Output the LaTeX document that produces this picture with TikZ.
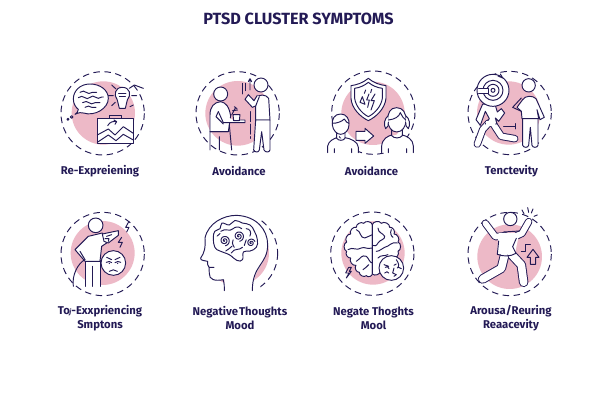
\documentclass[tikz,border=0pt]{standalone}
\usepackage{fontspec}
\setmainfont{Fira Sans}
\usetikzlibrary{decorations.pathmorphing}
\definecolor{ink}{HTML}{231A55}
\definecolor{rose}{HTML}{EDB9C7}
\tikzset{
  z3/.style={x=.3333pt,y=-.3333pt},
  ln/.style={draw=ink,line width=.95pt,line cap=round,line join=round},
  wf/.style={ln,fill=white},
  dashring/.style={draw=ink,line width=.95pt,dash pattern=on 6.5pt off 4.5pt},
  pinkdisc/.style={fill=rose,draw=none},
  lab/.style={text=ink,font=\bfseries\fontsize{11.3}{14}\selectfont,align=center,inner sep=0pt},
  ttl/.style={text=ink,font=\bfseries\fontsize{16.2}{18}\selectfont,inner sep=0pt},
  wav/.style={ln,decorate,decoration={snake,segment length=11pt,amplitude=1.2pt}},
  scl/.style={bend right=70},
  scr/.style={bend left=70}
}
\newcommand\tube[2]{\draw[ink,line width=#1pt,line cap=round,line join=round] #2;
  \draw[white,line width=#1pt-1.9pt,line cap=round,line join=round] #2;}
\newcommand\spir[4]{\draw[ln] plot[domain=0:#4,samples=50,smooth] ({#1+(\x/#4*#3)*cos(\x)},{#2+(\x/#4*#3)*sin(\x)});}
\begin{document}
\begin{tikzpicture}[x=1pt,y=-1pt]
\useasboundingbox (0,0) rectangle (600,420);
\fill[white] (0,0) rectangle (600,420);
\node[ttl] (title) at (298.5,18.5) {PTSD CLUSTER SYMPTOMS};
\node[lab] (l1) at (100,171.5) {Re-Expreiening};
\node[lab] (l2) at (239,171.5) {Avoidance};
\node[lab] (l3) at (371.5,171.5) {Avoidance};
\node[lab] (l4) at (511.5,171.5) {Tenctevity};
\node[lab] (l5) at (100,318.5) {To\kern-.5pt{\itshape\scriptsize j}-Exxpriencing\\Smptons};
\node[lab] (l6) at (240,318.5) {Negative\hspace{1pt}Thoughts\\Mood};
\node[lab] (l7) at (373.5,318.5) {Negate Thoghts\\Mool};
\node[lab] (l8) at (511,318.5) {Arousa/Reuring\\Reaacevity};

% ---- icon 1
\begin{scope}[shift={(40,55)},z3]
\draw[dashring] (188,175) circle[radius=125];
\fill[pinkdisc] (190,174) circle[radius=95];
\draw[wf] (105,178) .. controls (118,172) and (124,172) .. (130,174) .. controls (165,185) and (205,160) .. (205,130) .. controls (205,105) and (180,87) .. (150,87) .. controls (120,87) and (100,108) .. (100,132) .. controls (100,147) and (108,158) .. (115,163) .. controls (115,170) and (110,175) .. (105,178) -- cycle;
\draw[wav] (120,112) -- (170,112);
\draw[wav] (115,128) -- (190,126);
\draw[wav] (128,143) -- (180,143);
\draw[wav] (135,157) -- (168,157);
\draw[ln] (95,186) circle[radius=4];
\draw[ln] (84,193) circle[radius=3];
% bulb
\draw[wf] (238,160) -- (232,135) .. controls (220,120) and (225,97) .. (247,97) .. controls (270,97) and (275,120) .. (262,135) -- (256,160) -- cycle;
\draw[ln] (236,115) -- (258,115) (238,124) -- (256,124);
\draw[ln] (215,90) -- (228,102) (205,122) -- (220,122) (215,152) -- (226,142) (275,122) -- (290,122) (270,155) -- (280,150) (268,100) -- (283,90) -- (310,100);
% briefcase
\draw[wf] (172,190) rectangle (280,265);
\draw[ln] (207,190) -- (207,182) -- (243,182) -- (243,190);
\draw[ln] (172,240) -- (205,222) -- (225,240) -- (250,215) -- (280,235);
\draw[ln] (172,262) -- (205,240) -- (228,257) -- (250,238) -- (280,255);
\draw[ln] (203,212) .. controls (210,200) and (220,198) .. (230,200) (222,195) -- (230,200) -- (225,208);
\end{scope}

% ---- icon 2
\begin{scope}[shift={(190,70)},z3]
\draw[dashring] (143,130) circle[radius=125];
\fill[pinkdisc] (143,130) circle[radius=97];
% left person
\draw[wf] (60,185) -- (60,135) .. controls (60,110) and (72,97) .. (92,95) .. controls (108,97) and (118,112) .. (122,138) -- (115,185) -- cycle;
\draw[ln] (60,185) -- (60,240) (88,200) -- (88,240) (118,165) -- (125,240) (60,185) -- (115,185);
\draw[wf] (92,72) circle[radius=21];
\draw[wf] (85,125) -- (100,158) -- (165,158) -- (165,150) -- (130,150);
\draw[ln] (85,125) -- (78,140) -- (100,162);
\draw[wf] (129,134) -- (150,134) -- (148,152) -- (131,152) -- cycle;
\draw[ln] (125,135) -- (137,112) (128,122) -- (143,120) (133,110) -- (141,116);
% right person
\draw[wf] (197,150) -- (197,85) .. controls (205,72) and (228,72) .. (236,85) -- (240,150) -- cycle;
\draw[wf] (208,80) -- (197,108) -- (187,112) -- (165,88) -- (175,74) -- (192,92) -- (202,76);
\draw[wf] (197,150) -- (191,240) .. controls (195,248) and (206,248) .. (208,240) -- (215,185) -- (222,240) .. controls (226,248) and (238,248) .. (240,240) -- (240,150) -- cycle;
\draw[wf] (213,45) circle[radius=21];
\draw[ln] (158,40) -- (158,72) (166,40) -- (166,62);
\draw[ln] (180,60) -- (180,28) (175,35) -- (180,26) -- (185,35);
\draw[ln,dash pattern=on 10pt off 2.5pt] (181,125) -- (181,205);
\end{scope}

% ---- icon 3
\begin{scope}[shift={(325,70)},z3]
\draw[dashring] (145,128) circle[radius=125];
\fill[pinkdisc] (144,130) circle[radius=95];
\draw[wf] (130,25) .. controls (115,38) and (95,45) .. (78,47) -- (78,85) .. controls (80,115) and (105,140) .. (130,152) .. controls (155,140) and (180,115) .. (183,85) -- (183,47) .. controls (165,45) and (145,38) .. (130,25) -- cycle;
\draw[ln] (130,37) .. controls (118,47) and (104,53) .. (89,55) -- (89,85) .. controls (92,108) and (110,130) .. (130,140) .. controls (150,130) and (169,108) .. (172,85) -- (172,55) .. controls (156,53) and (142,47) .. (130,37) -- cycle;
\draw[ln] (132,72) -- (125,90) -- (133,90) -- (128,112);
\draw[ln] (112,80) -- (105,97) -- (120,103) -- cycle;
\draw[ln] (150,72) -- (138,92) -- (148,92) -- (138,120);
\draw[ln] (122,60) -- (118,70) (140,58) -- (137,68);
% left person
\fill[white] (8,248) -- (8,225) .. controls (10,212) and (30,205) .. (48,205) .. controls (75,205) and (100,215) .. (100,235) -- (100,248) -- cycle;
\draw[ln] (8,248) -- (8,228) .. controls (10,212) and (30,205) .. (35,203) (60,203) .. controls (75,205) and (100,215) .. (100,232) -- (100,248);
\draw[ln] (28,248) -- (28,236) (80,248) -- (80,236) (35,190) -- (35,205) .. controls (42,213) and (54,213) .. (60,205) -- (60,190);
\draw[wf] (47,132) .. controls (28,132) and (20,148) .. (22,165) .. controls (24,182) and (36,193) .. (47,193) .. controls (60,193) and (72,180) .. (72,165) .. controls (74,148) and (65,132) .. (47,132) -- cycle;
\draw[ln] (22,160) .. controls (36,160) and (50,155) .. (58,147) .. controls (62,155) and (68,160) .. (72,160);
% arrow
\draw[wf] (93,184) -- (120,184) -- (120,175) -- (146,198) -- (120,220) -- (120,211) -- (93,211) -- cycle;
% right person
\fill[white] (170,248) -- (170,225) .. controls (172,205) and (195,195) .. (215,195) .. controls (245,195) and (265,208) .. (265,228) -- (265,248) -- cycle;
\draw[ln] (170,248) -- (170,228) .. controls (172,205) and (190,198) .. (200,195) (232,195) .. controls (245,198) and (265,208) .. (265,228) -- (265,248);
\draw[ln] (190,248) -- (190,236) (245,248) -- (245,236) (200,180) -- (200,197) .. controls (207,206) and (225,206) .. (232,197) -- (232,180);
\draw[wf] (215,113) .. controls (195,113) and (188,130) .. (188,150) .. controls (188,170) and (200,186) .. (215,186) .. controls (232,186) and (243,170) .. (243,150) .. controls (243,130) and (235,113) .. (215,113) -- cycle;
\draw[wf] (190,137) .. controls (178,145) and (175,165) .. (182,176) .. controls (190,172) and (190,165) .. (190,157);
\draw[wf] (242,137) .. controls (254,145) and (257,165) .. (250,176) .. controls (243,172) and (242,165) .. (242,157);
\draw[ln] (190,150) .. controls (210,148) and (222,140) .. (226,128) .. controls (230,138) and (236,145) .. (242,150);
\end{scope}

% ---- icon 4
\begin{scope}[shift={(462,68)},z3]
\draw[dashring] (143,135) circle[radius=125];
\fill[pinkdisc] (140,135) circle[radius=95];
% runner
\tube{7.5}{(80,165) -- (62,185) -- (46,228)}
\tube{7.5}{(92,165) -- (118,205) -- (158,212)}
\draw[wf] (62,108) -- (42,155) -- (55,172) -- (70,130) -- (82,152) -- (70,168) -- (105,168) -- (100,150) -- (110,160) -- (128,135) -- (118,122) -- (106,132) -- (100,112) -- cycle;
\fill[white] (72,160) rectangle (100,175);
\draw[ln] (125,175) -- (160,175) (160,167) -- (160,183);
\draw[wf] (93,67) circle[radius=48];
\draw[ln] (93,67) circle[radius=30] (93,67) circle[radius=18] (93,67) circle[radius=6];
\draw[wf] (50,60) -- (80,60) -- (80,75) -- (50,75);
\draw[ln] (108,24) -- (122,30) -- (115,18);
% right person
\draw[wf] (182,150) -- (182,232) .. controls (185,240) and (198,240) .. (200,232) -- (205,178) -- (210,232) .. controls (212,240) and (226,240) .. (228,232) -- (228,150) -- cycle;
\draw[wf] (180,152) -- (178,130) -- (165,118) -- (182,95) .. controls (190,82) and (212,82) .. (222,92) -- (247,148) -- (234,155) -- (225,125) -- (230,152) -- cycle;
\draw[ln] (178,130) -- (152,118) -- (178,90);
\draw[wf] (200,52) circle[radius=20];
\end{scope}

% ---- icon 5
\begin{scope}[shift={(55,208)},z3]
\draw[dashring] (143,138) circle[radius=125];
\fill[pinkdisc] (143,135) circle[radius=96];
% person
\draw[wf] (90,235) -- (90,158) -- (135,158) -- (135,235);
\draw[ln] (112,235) -- (112,175);
\draw[wf] (90,160) -- (60,125) -- (100,85) -- (142,75) -- (155,105) -- (140,115) -- (135,160) -- cycle;
\draw[ln] (90,155) .. controls (70,165) and (50,200) .. (55,235);
\draw[ln] (75,130) -- (90,155);
\draw[wf] (122,52) circle[radius=22];
\draw[wf] (142,78) -- (190,68) -- (190,82) -- (160,105) -- (147,100) -- cycle;
\draw[ln] (155,85) -- (170,80) (150,92) -- (162,92) -- (160,100);
\draw[ln] (222,40) -- (212,58) -- (222,58) -- (215,72);
\draw[ln] (200,88) -- (190,103) -- (202,103) -- (195,118);
% face
\draw[wf] (175,165) circle[radius=37];
\draw[ln] (155,148) -- (170,155) (195,148) -- (180,155);
\draw[ln] (154,163) .. controls (160,159) and (167,160) .. (170,164) (180,164) .. controls (185,160) and (192,159) .. (197,163);
\fill[ink] (163,166) circle[radius=2.2] (188,166) circle[radius=2.2];
\draw[ln] (163,190) .. controls (170,184) and (180,184) .. (187,190);
\end{scope}

% ---- icon 6
\begin{scope}[shift={(195,208)},z3]
\fill[pinkdisc] (125,135) circle[radius=97];
\begin{scope}
\clip (196,0) rectangle (260,260);
\draw[dashring] (125,136) circle[radius=123];
\end{scope}
\fill[white] (88,250) -- (88,215) .. controls (60,220) and (42,215) .. (42,195) -- (20,155) .. controls (35,130) and (25,110) .. (30,85) .. controls (45,40) and (90,22) .. (125,22) .. controls (185,25) and (218,65) .. (218,110) .. controls (215,175) and (175,175) .. (172,248) -- (172,260) -- (88,260) -- cycle;
\draw[ln] (88,248) .. controls (88,235) and (88,225) .. (85,215) .. controls (60,220) and (42,215) .. (43,197) -- (42,178) -- (57,178) (42,178) .. controls (36,172) and (38,166) .. (38,160) .. controls (30,158) and (15,158) .. (17,150) .. controls (28,135) and (32,120) .. (30,90) .. controls (40,45) and (85,22) .. (125,22) .. controls (185,25) and (218,65) .. (218,110) .. controls (218,170) and (172,170) .. (172,248);
% brain
\begin{scope}[shift={(-14.4,-10.8)},scale=1.12]
\draw[ln] plot[smooth cycle,tension=.75] coordinates {(62,90) (66,72) (80,65) (85,50) (105,55) (120,43) (140,50) (160,55) (172,72) (180,95) (177,115) (160,125) (143,127) (140,148) (125,150) (105,135) (80,125) (66,115)};
\spir{92}{97}{14}{800}
\spir{130}{85}{14}{800}
\spir{163}{103}{11}{700}
\draw[ln] (82,72) .. controls (95,62) and (105,75) .. (115,65) .. controls (120,60) and (130,58) .. (138,65) (150,65) .. controls (160,65) and (165,75) .. (160,85) (110,130) .. controls (120,115) and (130,125) .. (140,115) (118,115) .. controls (112,105) and (112,100) .. (115,95) (150,95) -- (145,110) (72,85) -- (80,78) (95,125) .. controls (100,118) and (108,120) .. (112,112);
\end{scope}
\end{scope}

% ---- icon 7
\begin{scope}[shift={(328,208)},z3]
\draw[dashring] (133,137) circle[radius=125];
\fill[pinkdisc] (135,135) circle[radius=95];
\draw[wf] (133,50) to[scl] (107,46) to[scl] (85,58) to[scl] (68,78) to[scl] (56,102) to[scl] (56,130) to[scl] (68,150) to[scl] (84,172) to[scl] (94,193) to[scl] (115,203) to[scl] (133,198) -- cycle;
\draw[wf] (133,50) to[scr] (160,46) to[scr] (185,58) to[scr] (198,78) to[scr] (210,102) to[scr] (210,130) to[scr] (196,150) to[scr] (170,165) to[scr] (158,188) to[scr] (133,198) -- cycle;
\draw[ln] (85,65) .. controls (100,70) and (95,90) .. (110,90) .. controls (120,90) and (125,80) .. (133,80)
 (60,125) .. controls (75,115) and (85,130) .. (100,120) .. controls (110,115) and (115,125) .. (133,120)
 (85,160) .. controls (100,150) and (100,140) .. (115,145) .. controls (122,150) and (125,165) .. (133,165)
 (105,185) .. controls (110,175) and (120,180) .. (122,170)
 (150,60) .. controls (150,75) and (165,75) .. (170,85) .. controls (172,95) and (155,95) .. (150,105) .. controls (145,115) and (140,115) .. (133,112)
 (208,105) .. controls (190,100) and (185,115) .. (170,118) .. controls (160,120) and (158,130) .. (145,130)
 (190,65) .. controls (185,75) and (190,85) .. (195,88)
 (150,150) .. controls (158,140) and (170,145) .. (180,140);
\draw[wf] (190,180) circle[radius=37];
\draw[ln] (168,170) -- (182,175) (172,178) .. controls (176,174) and (182,176) .. (183,182)
 (205,155) .. controls (212,165) and (215,175) .. (208,180) (198,172) -- (205,168) (212,178) -- (220,182)
 (198,180) -- (194,195) -- (205,200) -- (198,205)
 (170,195) .. controls (175,190) and (180,190) .. (182,195);
\draw[ln] (62,178) -- (53,195) -- (63,195) -- (55,210) (62,178) -- (70,178) -- (64,190) -- (70,190) -- (55,210);
\end{scope}

% ---- icon 8
\begin{scope}[shift={(462,205)},z3]
\draw[dashring] (143,147) circle[radius=125];
\fill[pinkdisc] (143,155) circle[radius=97];
\tube{7.5}{(70,55) -- (100,95) -- (130,92)}
\tube{7.5}{(165,92) -- (180,85) -- (200,50)}
\tube{9.5}{(128,150) -- (118,190) -- (62,222)}
\tube{9.5}{(150,150) -- (178,180) -- (185,232)}
\fill[white] (110,84) -- (172,84) -- (158,150) -- (105,148) -- cycle;
\draw[ln] (125,81) -- (172,78);
\draw[ln] (106,148) .. controls (125,155) and (145,155) .. (162,145);
\draw[ln] (110,108) -- (106,148) (163,100) -- (152,125) -- (162,145);
\draw[wf] (145,42) circle[radius=20];
\draw[ln] (178,138) -- (190,138) -- (190,118) -- (205,118);
\draw[ln] (213,133) -- (231,157) -- (221,157) -- (221,178) -- (205,178) -- (205,157) -- (195,157) -- cycle;
\draw[ln] (180,15) -- (186,26) (197,8) -- (200,22) (213,12) -- (208,24) (226,30) -- (216,34);
\end{scope}
\end{tikzpicture}
\end{document}
